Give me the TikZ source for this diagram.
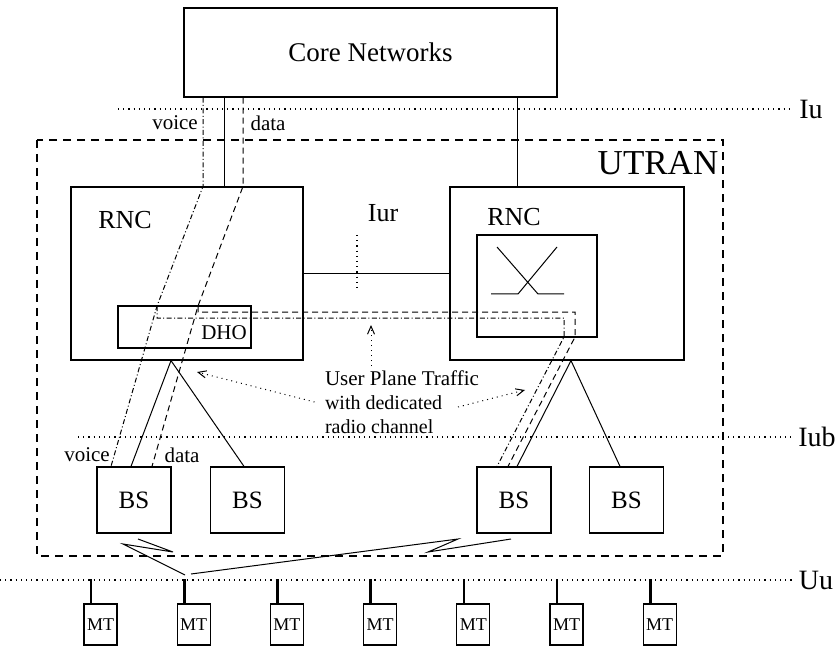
\documentclass[tikz,border=0pt]{standalone}
\usepackage{fontspec}
\setmainfont{Liberation Serif}
\usetikzlibrary{arrows.meta}

\begin{document}
\begin{tikzpicture}[x=0.5pt,y=-0.5pt,line width=0.5pt,
        box/.style={draw,line width=0.6pt,inner sep=0pt},
        iface/.style={dotted,line width=0.6pt},
        voicepath/.style={dash pattern=on 2.5pt off 1.2pt on 0.5pt off 1.2pt},
        datapath/.style={dash pattern=on 3pt off 2pt},
        hint/.style={dotted,-{Straight Barb[length=4pt,width=3.5pt]}}]
                \useasboundingbox (0,0) rectangle (839,646);
                \node [box,minimum width=186.5pt,minimum height=44.5pt] (core) at (370.5,52.5) {\fontsize{13.5}{16}\selectfont Core Networks};
                \draw [dash pattern=on 4pt off 3pt,line width=0.6pt] (37,140) rectangle (723,556);
                \node (utran) at (658,163) {\fontsize{17.5}{20}\selectfont UTRAN};
                \node [box,minimum width=116pt,minimum height=86.5pt] (rncL) at (187,273.5) {};
                \node [box,minimum width=117pt,minimum height=86.5pt] (rncR) at (567,273.5) {};
                \node (rncLtext) at (125,220) {\fontsize{13}{15}\selectfont RNC};
                \node (rncRtext) at (514,217) {\fontsize{13}{15}\selectfont RNC};
                \node [box,minimum width=60pt,minimum height=51pt] (sw) at (537,286) {};
                \node [box,minimum width=66.5pt,minimum height=21pt] (dho) at (184.5,327) {};
                \node (dhotext) at (224,333) {\fontsize{10.5}{12}\selectfont DHO};
                \node [box,minimum width=37pt,minimum height=33pt] (bsA) at (134,500) {\fontsize{12.5}{14}\selectfont BS};
                \node [box,minimum width=37pt,minimum height=33pt] (bsB) at (247.5,500) {\fontsize{12.5}{14}\selectfont BS};
                \node [box,minimum width=37pt,minimum height=33pt] (bsC) at (514,500) {\fontsize{12.5}{14}\selectfont BS};
                \node [box,minimum width=37pt,minimum height=33pt] (bsD) at (626.5,500) {\fontsize{12.5}{14}\selectfont BS};
                \foreach \i in {1,...,7} {
                    \node [box,minimum width=16.5pt,minimum height=20.5pt] (mt\i) at ({100.5+93.2*(\i-1)},624.5) {\fontsize{9}{10}\selectfont MT};
                    \draw [line width=1.3pt] ([xshift=-4.75pt]mt\i.north) -- ++(0,-24);
                }
                \node (iu) at (811,109) {\fontsize{14}{16}\selectfont Iu};
                \node (iub) at (817,437) {\fontsize{14}{16}\selectfont Iub};
                \node (uu) at (816,580) {\fontsize{14}{16}\selectfont Uu};
                \node (iur) at (383,213) {\fontsize{13}{15}\selectfont Iur};
                \coordinate (iuStart) at (118,109);
                \coordinate (iubStart) at (78,437);
                \coordinate (uuStart) at (0,580);
                \draw [iface] (iuStart) -- (iu);
                \draw [iface] (iubStart) -- (iub);
                \draw [iface] (uuStart) -- (uu);
                \draw [iface] (357,235) -- (357,292);
                \node (voiceU) at (175,123) {\fontsize{10.5}{12}\selectfont voice};
                \node (dataU) at (268,123) {\fontsize{10.5}{12}\selectfont data};
                \node (voiceL) at (87,455) {\fontsize{10.5}{12}\selectfont voice};
                \node (dataL) at (182,455) {\fontsize{10.5}{12}\selectfont data};
                \coordinate (xv) at (203,0);
                \coordinate (xs) at (224,0);
                \coordinate (xd) at (243,0);
                \coordinate (xc) at (517,0);
                \draw (core.south -| xs) -- (rncL.north -| xs);
                \draw (core.south -| xc) -- (rncR.north -| xc);
                \draw (rncL) -- (rncR);
                \coordinate (vA) at (157,306);
                \coordinate (vB) at (157,318);
                \coordinate (vC) at (564,318);
                \coordinate (vD) at (564,337);
                \coordinate (dA) at (198,306);
                \coordinate (dB) at (198,312);
                \coordinate (dC) at (575,312);
                \coordinate (dD) at (575,337);
                \draw [voicepath] (core.south -| xv) -- (rncL.north -| xv) -- (vA) -- ([xshift=-11.5pt]bsA.north);
                \draw [voicepath] (vA) -- (vB) -- (vC) -- (vD) -- ([xshift=-8.5pt]bsC.north);
                \draw [datapath] (core.south -| xd) -- (rncL.north -| xd) -- (dA) -- ([xshift=9pt]bsA.north);
                \draw [datapath] (dA) -- (dB) -- (dC) -- (dD) -- ([xshift=-3pt]bsC.north);
                \draw ([xshift=-1.5pt]bsA.north) -- ([xshift=-8pt]rncL.south) -- ([xshift=-1.75pt]bsB.north);
                \draw ([xshift=1.5pt]bsC.north) -- ([xshift=2pt]rncR.south) -- ([xshift=-3.25pt]bsD.north);
                \draw (497,247) -- (538,294) -- (564,294);
                \draw (557,247) -- (518,294) -- (491,294);
                \node [align=left,inner sep=2pt] (upt) at (402,402) {\fontsize{10.5}{8.6}\selectfont User Plane Traffic\\with dedicated\\radio channel};
                \coordinate (tipL) at (197,372);
                \coordinate (tipR) at (525,390);
                \coordinate (tipU) at (371,325);
                \coordinate (tailR) at (458,407);
                \draw [hint] ([xshift=-3pt]upt.west) -- (tipL);
                \draw [hint] (tailR) -- (tipR);
                \draw [hint] (upt.north -| tipU) -- (tipU);
                \draw (138,539) -- (173,552) -- (123,544) -- (185,575);
                \draw (191,574) -- (458,539) -- (428,552) -- (511,539);
            \end{tikzpicture}
\end{document}
